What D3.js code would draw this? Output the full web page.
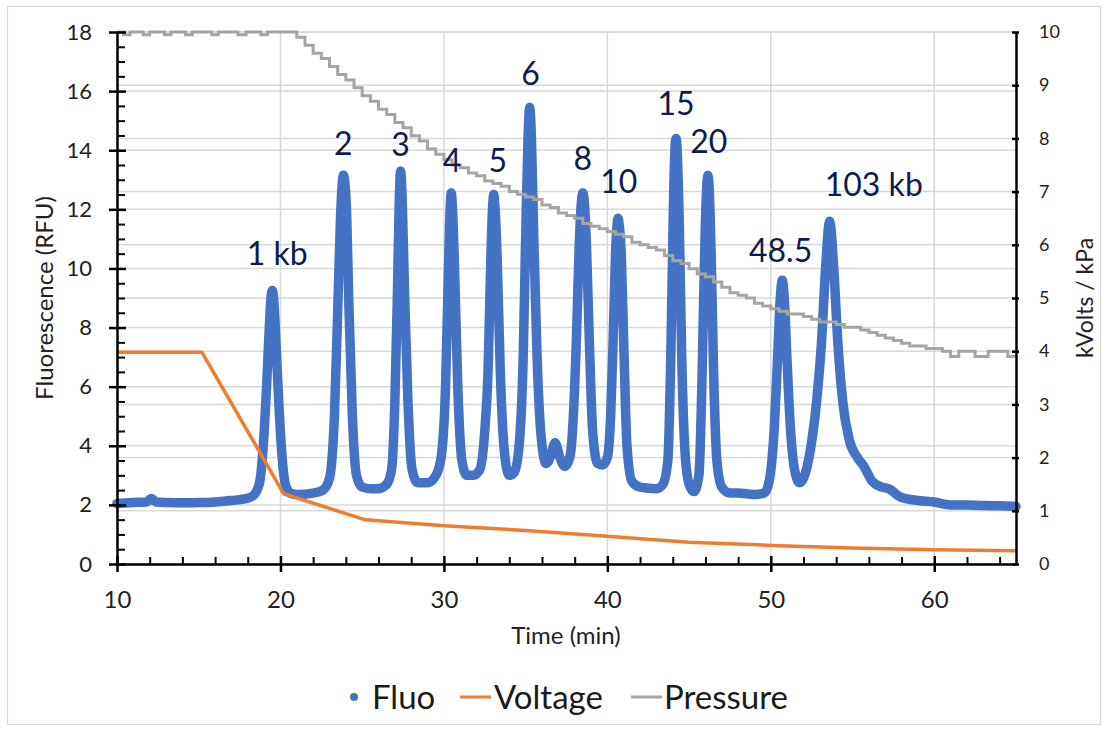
<!DOCTYPE html>
<html lang="en">
  <head>
    <meta charset="UTF-8" />
    <title>Fluo / Voltage / Pressure</title>
    <script src="https://cdn.jsdelivr.net/npm/d3@7"></script>
    <style>
      body { margin: 0; background: #fff; }
      svg { font-family: Lato, "Open Sans", sans-serif; }
    </style>
  </head>
  <body>
    <svg id="chart" width="1107" height="731"></svg>
    <script>
      // fluorescence trace, [time (min), RFU]
      const fluo = [
        [10, 2.05], [11, 2.08], [11.8, 2.1], [12.1, 2.22], [12.4, 2.1], [13, 2.08], [14, 2.07],
        [15, 2.08], [16, 2.1], [17, 2.15], [17.8, 2.2], [18.3, 2.3], [18.7, 2.7],
        [18.95, 4.0], [19.15, 6.0], [19.3, 7.8], [19.42, 9.0], [19.5, 9.25], [19.58, 9.0],
        [19.7, 7.8], [19.85, 6.0], [20.05, 4.0], [20.3, 2.7], [20.6, 2.4],
        [21, 2.35], [22, 2.4], [22.6, 2.5], [23.0, 2.9],
        [23.3, 5.0], [23.5, 8.5], [23.68, 11.8], [23.8, 13.0], [23.85, 13.15], [23.92, 13.0],
        [24.05, 11.8], [24.2, 8.5], [24.4, 5.0], [24.65, 3.0], [25, 2.6],
        [25.5, 2.55], [26, 2.55], [26.5, 2.7], [26.8, 3.2],
        [27.0, 5.5], [27.15, 9], [27.27, 12.3], [27.35, 13.3], [27.45, 12.3], [27.6, 9],
        [27.8, 5.5], [28.05, 3.2], [28.4, 2.75],
        [29, 2.75], [29.4, 2.9], [29.8, 3.5],
        [30.1, 6], [30.28, 10], [30.38, 12], [30.45, 12.55], [30.53, 12], [30.65, 10],
        [30.85, 6], [31.1, 3.5], [31.4, 3.0],
        [31.8, 3.0], [32.2, 3.2], [32.5, 4.5],
        [32.7, 6.5], [32.88, 10.5], [32.98, 12.1], [33.05, 12.5], [33.12, 12.1], [33.25, 10.5],
        [33.45, 6.5], [33.7, 3.8], [34.0, 3.0],
        [34.3, 3.1], [34.6, 4.0],
        [34.85, 7], [35.0, 11], [35.15, 14.5], [35.25, 15.45], [35.35, 14.5], [35.5, 11],
        [35.7, 7], [35.95, 4.3], [36.25, 3.4],
        [36.5, 3.6], [36.8, 4.1], [37.1, 3.6], [37.4, 3.3], [37.7, 3.6], [37.9, 4.8],
        [38.1, 7.5], [38.28, 10.8], [38.42, 12.3], [38.5, 12.55], [38.58, 12.3], [38.72, 10.8],
        [38.9, 7.5], [39.1, 4.5], [39.4, 3.4],
        [39.7, 3.35], [40.0, 3.6], [40.2, 5.0],
        [40.35, 7.5], [40.5, 10.5], [40.6, 11.5], [40.65, 11.7], [40.72, 11.5], [40.85, 10.5],
        [41.0, 7.5], [41.2, 4.0], [41.5, 2.8], [42, 2.6], [43, 2.55], [43.4, 2.7], [43.7, 3.5],
        [43.88, 7], [44.02, 11.5], [44.13, 14.0], [44.2, 14.4], [44.27, 14.0], [44.4, 11.5],
        [44.55, 7], [44.75, 3.8], [45.0, 2.7], [45.3, 2.45], [45.6, 3.0],
        [45.8, 6.5], [45.95, 10.5], [46.08, 12.8], [46.15, 13.15], [46.22, 12.8], [46.35, 10.5],
        [46.5, 6.5], [46.7, 3.5], [47, 2.6], [47.5, 2.4], [48, 2.4], [49, 2.35], [49.6, 2.4],
        [49.9, 2.8],
        [50.2, 4.5], [50.4, 6.8], [50.58, 9.0], [50.7, 9.6], [50.82, 9.0], [51.0, 6.8],
        [51.2, 4.6], [51.45, 3.2], [51.75, 2.75], [52.0, 2.9], [52.4, 3.8], [52.8, 5.5],
        [53.1, 7.5], [53.35, 10.0], [53.6, 11.6], [53.85, 10.0], [54.1, 7.5], [54.4, 5.5],
        [54.8, 4.2], [55.3, 3.6], [55.7, 3.3], [56.2, 2.8], [56.8, 2.6], [57.2, 2.55],
        [58, 2.25], [59, 2.15], [60, 2.1], [61, 2.0], [62, 2.0], [63, 1.98], [64, 1.97], [65, 1.95]
      ];

      // voltage, [time, kV]
      const voltage = [
        [10, 3.98], [15.2, 3.98], [20.2, 1.32], [25.2, 0.83], [30, 0.72], [35, 0.63],
        [40, 0.52], [45, 0.41], [50, 0.35], [55, 0.3], [60, 0.27], [65, 0.25]
      ];

      // pressure, [time, kPa] (stepped)
      const pressure = [
        [10, 10], [10.4, 9.95], [10.8, 10], [11.6, 9.95], [12, 10], [12.9, 9.95], [13.3, 10],
        [14.2, 9.95], [14.6, 10], [15.8, 9.95], [16.2, 10], [17.4, 9.95], [17.9, 10],
        [18.8, 9.95], [19.2, 10],
        [20.5, 10], [21, 9.9], [21.5, 9.75], [22, 9.6], [22.5, 9.5], [23, 9.35], [23.5, 9.2],
        [24, 9.1], [24.5, 8.95], [25, 8.8], [25.5, 8.7], [26, 8.55], [26.5, 8.45], [27, 8.3],
        [27.5, 8.2], [28, 8.05], [28.5, 7.95], [29, 7.8], [29.5, 7.7], [30, 7.6], [30.5, 7.5],
        [31, 7.45], [31.5, 7.35], [32, 7.3], [32.5, 7.2], [33, 7.15], [33.5, 7.1], [34, 7.0],
        [34.5, 6.95], [35, 6.9], [35.5, 6.85], [36, 6.75], [36.5, 6.7], [37, 6.6], [37.5, 6.55],
        [38, 6.5], [38.5, 6.4], [39, 6.35], [39.5, 6.3], [40, 6.25], [40.5, 6.2], [41, 6.15],
        [41.5, 6.05], [42, 6.0], [42.5, 5.95], [43, 5.9], [43.5, 5.8], [44, 5.7], [44.5, 5.65],
        [45, 5.55], [45.5, 5.45], [46, 5.4], [46.5, 5.3], [47, 5.2], [47.5, 5.1], [48, 5.05],
        [48.5, 5.0], [49, 4.9], [49.5, 4.85], [50, 4.8], [50.5, 4.75], [51, 4.7], [52, 4.65],
        [52.5, 4.6], [53, 4.55], [54, 4.5], [54.5, 4.45], [55.5, 4.4], [56, 4.35], [56.5, 4.3],
        [57, 4.25], [57.5, 4.2], [58, 4.15], [58.5, 4.1], [59.5, 4.05], [60.5, 4.0], [61, 3.9],
        [61.5, 4.0], [62.5, 3.9], [63.3, 4.0], [64.5, 3.9], [65, 3.9]
      ];

      // fragment size labels, placed at [time, RFU] of their baseline
      const peakLabels = [
        ["1 kb", 19.8, 10.1], ["2", 23.85, 13.85], ["3", 27.35, 13.8], ["4", 30.5, 13.25],
        ["5", 33.3, 13.25], ["6", 35.3, 16.2], ["8", 38.5, 13.33], ["10", 40.7, 12.55],
        ["15", 44.2, 15.19], ["20", 46.2, 13.9], ["48.5", 50.6, 10.22], ["103 kb", 56.3, 12.45]
      ];

      const xTicks = [10, 20, 30, 40, 50, 60];
      const leftTicks = [0, 2, 4, 6, 8, 10, 12, 14, 16, 18];
      const rightTicks = [0, 1, 2, 3, 4, 5, 6, 7, 8, 9, 10];

      const colors = { fluo: "#4472C4", voltage: "#ED7D31", pressure: "#A5A5A5" };

      const svg = d3.select("#chart");
      const plotLeft = 117, plotRight = 1016, plotTop = 32, plotBottom = 564;

      let x = d3.scaleLinear().domain([10, 65]).range([plotLeft, plotRight]);
      let yL = d3.scaleLinear().domain([0, 18]).range([plotBottom, plotTop]);
      let yR = d3.scaleLinear().domain([0, 10]).range([plotBottom, plotTop]);

      // outer chart border
      svg.append("rect")
        .attr("x", 7.5).attr("y", 6.5).attr("width", 1093).attr("height", 718)
        .attr("fill", "#fff").attr("stroke", "#d9d9d9").attr("stroke-width", 1.2);

      // gridlines: both value axes get their own horizontal lines
      let grid = svg.append("g").attr("stroke", "#d9d9d9").attr("stroke-width", 1.5);
      grid.selectAll(".gx").data(xTicks).enter().append("line")
        .attr("x1", (d) => x(d)).attr("x2", (d) => x(d)).attr("y1", plotTop).attr("y2", plotBottom);
      grid.selectAll(".gl").data(leftTicks).enter().append("line")
        .attr("x1", plotLeft).attr("x2", plotRight).attr("y1", (d) => yL(d)).attr("y2", (d) => yL(d));
      grid.selectAll(".gr").data(rightTicks).enter().append("line")
        .attr("x1", plotLeft).attr("x2", plotRight).attr("y1", (d) => yR(d)).attr("y2", (d) => yR(d));

      // series
      let fluoLine = d3.line().x((d) => x(d[0])).y((d) => yL(d[1])).curve(d3.curveMonotoneX);
      svg.append("path").datum(fluo)
        .attr("d", fluoLine)
        .attr("fill", "none").attr("stroke", colors.fluo).attr("stroke-width", 9.5)
        .attr("stroke-linejoin", "round").attr("stroke-linecap", "round");

      let voltLine = d3.line().x((d) => x(d[0])).y((d) => yR(d[1]));
      svg.append("path").datum(voltage)
        .attr("d", voltLine)
        .attr("fill", "none").attr("stroke", colors.voltage).attr("stroke-width", 3.5)
        .attr("stroke-linejoin", "round");

      let presLine = d3.line().x((d) => x(d[0])).y((d) => yR(d[1])).curve(d3.curveStepAfter);
      svg.append("path").datum(pressure)
        .attr("d", presLine)
        .attr("fill", "none").attr("stroke", colors.pressure).attr("stroke-width", 3);

      // axes
      function styleAxis(g, size) {
        g.select(".domain").attr("stroke", "#000").attr("stroke-width", 2.5);
        g.selectAll(".tick line").attr("stroke", "#000").attr("stroke-width", 2.5);
        g.selectAll(".tick text").attr("font-size", size).attr("fill", "#222")
          .attr("font-family", "Lato, sans-serif");
      }

      let minorY = d3.range(0, 18.01, 0.5).filter((d) => d % 2 !== 0);
      svg.append("g").attr("transform", `translate(${plotLeft},0)`)
        .call(d3.axisLeft(yL).tickValues(minorY).tickSize(-8).tickSizeOuter(0).tickFormat(""))
        .call((g) => g.select(".domain").remove())
        .selectAll(".tick line").attr("stroke", "#000").attr("stroke-width", 2);

      let minorX = d3.range(10, 65.01, 2).filter((d) => d % 10 !== 0);
      svg.append("g").attr("transform", `translate(0,${plotBottom})`)
        .call(d3.axisBottom(x).tickValues(minorX).tickSize(-7).tickSizeOuter(0).tickFormat(""))
        .call((g) => g.select(".domain").remove())
        .selectAll(".tick line").attr("stroke", "#000").attr("stroke-width", 2);

      let gLeft = svg.append("g").attr("transform", `translate(${plotLeft},0)`)
        .call(d3.axisLeft(yL).tickValues(leftTicks).tickSize(8).tickSizeOuter(0));
      gLeft.selectAll(".tick line").attr("x1", 9);
      gLeft.selectAll(".tick text").attr("x", -25);
      styleAxis(gLeft, 22);

      let gBottom = svg.append("g").attr("transform", `translate(0,${plotBottom})`)
        .call(d3.axisBottom(x).tickValues(xTicks).tickSize(8).tickSizeOuter(0));
      gBottom.selectAll(".tick line").attr("y1", -8);
      gBottom.selectAll(".tick text").attr("y", 44).attr("dy", 0);
      styleAxis(gBottom, 24);

      let gRight = svg.append("g").attr("transform", `translate(${plotRight},0)`)
        .call(d3.axisRight(yR).tickValues(rightTicks).tickSize(3).tickSizeOuter(0));
      gRight.selectAll(".tick line").attr("x1", -4);
      gRight.selectAll(".tick text").attr("x", 23);
      styleAxis(gRight, 18);

      // axis titles
      svg.append("text").attr("transform", `translate(53,298) rotate(-90)`)
        .attr("text-anchor", "middle").attr("font-size", 24).attr("fill", "#222")
        .text("Fluorescence (RFU)");
      svg.append("text").attr("transform", `translate(1093,298) rotate(-90)`)
        .attr("text-anchor", "middle").attr("font-size", 23).attr("fill", "#222")
        .text("kVolts / kPa");
      svg.append("text").attr("x", 566).attr("y", 644)
        .attr("text-anchor", "middle").attr("font-size", 24).attr("fill", "#222")
        .text("Time (min)");

      // peak labels
      svg.append("g").selectAll("text").data(peakLabels).enter().append("text")
        .attr("x", (d) => x(d[1])).attr("y", (d) => yL(d[2]))
        .attr("text-anchor", "middle").attr("font-size", 32).attr("fill", "#0f1d4a")
        .text((d) => d[0]);

      // legend
      let legend = svg.append("g").attr("font-size", 33).attr("fill", "#1a1a1a");
      legend.append("circle").attr("cx", 354).attr("cy", 697).attr("r", 4).attr("fill", colors.fluo);
      legend.append("text").attr("x", 372).attr("y", 709).text("Fluo");
      legend.append("line").attr("x1", 460).attr("x2", 491).attr("y1", 697).attr("y2", 697)
        .attr("stroke", colors.voltage).attr("stroke-width", 3);
      legend.append("text").attr("x", 494).attr("y", 709).text("Voltage");
      legend.append("line").attr("x1", 631).attr("x2", 662).attr("y1", 697).attr("y2", 697)
        .attr("stroke", colors.pressure).attr("stroke-width", 3);
      legend.append("text").attr("x", 664).attr("y", 709).text("Pressure");
    </script>
  </body>
</html>
